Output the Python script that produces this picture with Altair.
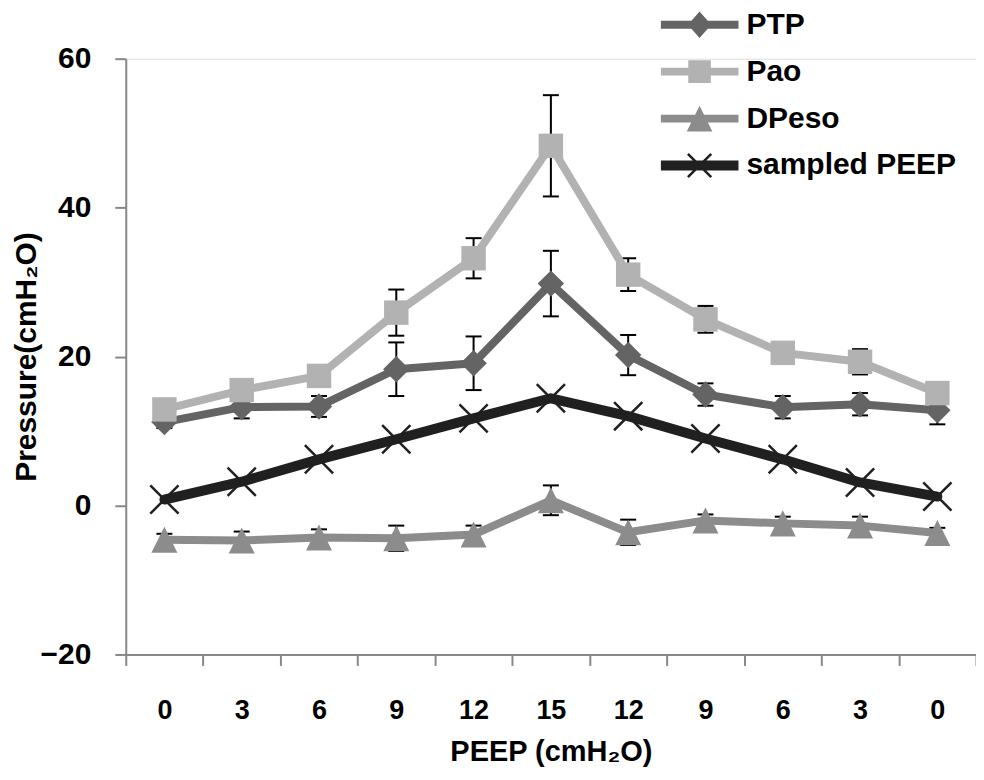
import json
import altair as alt
import pandas as pd

# ---------------- data ----------------
peep_labels = ["0", "3", "6", "9", "12", "15", "12", "9", "6", "3", "0"]
series_names = ["PTP", "Pao", "DPeso", "sampled PEEP"]

ptp = [11.2, 13.2, 13.3, 18.3, 19.1, 29.8, 20.2, 14.9, 13.2, 13.6, 12.8]
ptp_err = [0.8, 1.5, 1.4, 3.6, 3.6, 4.4, 2.7, 1.5, 1.5, 1.5, 1.9]

pao = [12.9, 15.5, 17.4, 25.9, 33.2, 48.3, 31.0, 25.0, 20.5, 19.3, 15.1]
pao_err = [0.8, 1.0, 1.0, 3.1, 2.7, 6.8, 2.2, 1.8, 1.0, 1.7, 1.0]

dpeso = [-4.6, -4.7, -4.3, -4.4, -3.9, 0.7, -3.6, -2.0, -2.4, -2.7, -3.7]
dpeso_err = [0.8, 1.2, 1.1, 1.7, 1.2, 2.0, 1.7, 0.8, 0.9, 1.2, 0.7]

sampled = [0.8, 3.2, 6.2, 8.9, 11.7, 14.4, 12.0, 9.0, 6.2, 3.1, 1.2]

colors = ["#646464", "#b2b2b2", "#8c8c8c", "#202020"]

# legend symbols: a bar (the line) plus the marker, as filled paths in [-1, 1]
legend_paths = [
    "M-1,-0.1L1,-0.1L1,0.1L-1,0.1Z M0,-0.34L0.3,0L0,0.34L-0.3,0Z",
    "M-1,-0.1L1,-0.1L1,0.1L-1,0.1Z M-0.29,-0.29L0.29,-0.29L0.29,0.29L-0.29,0.29Z",
    "M-1,-0.1L1,-0.1L1,0.1L-1,0.1Z M0,-0.33L0.33,0.33L-0.33,0.33Z",
    "M-1,-0.13L1,-0.13L1,0.13L-1,0.13Z "
    "M-0.277,-0.323L0.323,0.277L0.277,0.323L-0.323,-0.277Z "
    "M0.323,-0.277L-0.277,0.323L-0.323,0.277L0.277,-0.323Z",
]

# ---------------- table ----------------
rows = []
for name, vals, errs in zip(series_names, [ptp, pao, dpeso, sampled],
                            [ptp_err, pao_err, dpeso_err, None]):
    for i, v in enumerate(vals):
        r = {"idx": i, "series": name, "value": v}
        if errs is not None:
            r["lo"] = v - errs[i]
            r["hi"] = v + errs[i]
        rows.append(r)
df = pd.DataFrame(rows)

FONT = "Liberation Sans"
label_expr = json.dumps(peep_labels) + "[datum.value]"

x_scale = alt.Scale(type="band", paddingInner=0, paddingOuter=0)
x_axis = alt.Axis(
    title="PEEP (cmH\u2082O)", labelExpr=label_expr, labelAngle=0,
    tickBand="extent", tickSize=11, tickWidth=2, tickColor="#888888",
    domainColor="#888888", domainWidth=2, grid=False,
    labelFont=FONT, labelFontSize=27, labelFontWeight="bold", labelColor="black",
    labelBaseline="middle", labelPadding=45,
    titleFont=FONT, titleFontSize=29, titleFontWeight="bold", titleColor="black",
    titleBaseline="middle", titleY=97,
)
y_scale = alt.Scale(domain=[-20, 60], nice=False, zero=False)
y_axis = alt.Axis(
    title="Pressure(cmH\u2082O)", values=[-20, 0, 20, 40, 60],
    tickSize=11, tickWidth=2, tickColor="#888888",
    domainColor="#888888", domainWidth=2, grid=False,
    labelFont=FONT, labelFontSize=30, labelFontWeight="bold", labelColor="black",
    labelPadding=24,
    titleFont=FONT, titleFontSize=30, titleFontWeight="bold", titleColor="black",
    titleBaseline="middle", titleX=-99,
)


def xe():
    return alt.X("idx:O", scale=x_scale, axis=x_axis, bandPosition=0.5)


def ye(field):
    return alt.Y(f"{field}:Q", scale=y_scale, axis=y_axis)


base = alt.Chart(df)
err_base = base.transform_filter("isValid(datum.lo)")

layers = []
layers.append(err_base.mark_rule(color="black", strokeWidth=2).encode(
    x=xe(), y=ye("lo"), y2="hi:Q"))
layers.append(err_base.mark_tick(color="black", thickness=2, size=16, opacity=1).encode(
    x=xe(), y=ye("lo")))
layers.append(err_base.mark_tick(color="black", thickness=2, size=16, opacity=1).encode(
    x=xe(), y=ye("hi")))

marker_shapes = ["diamond", "square", "M0,-1L1,1L-1,1Z", "M-1,-1L1,1M1,-1L-1,1"]
marker_sizes = [700, 600, 680, 800]
line_widths = [8, 8, 8, 10]

for name, col, shp, sz, lw in zip(series_names, colors, marker_shapes, marker_sizes, line_widths):
    sb = base.transform_filter(alt.datum.series == name)
    layers.append(sb.mark_line(color=col, strokeWidth=lw, strokeJoin="round",
                               strokeCap="round").encode(x=xe(), y=ye("value")))
    if name == "sampled PEEP":
        layers.append(sb.mark_point(shape=shp, size=sz, filled=False, color=col,
                                    strokeWidth=2.5, opacity=1).encode(x=xe(), y=ye("value")))
    else:
        layers.append(sb.mark_point(shape=shp, size=sz, filled=True, color=col,
                                    opacity=1, strokeWidth=0).encode(x=xe(), y=ye("value")))

legend = alt.Legend(
    title=None, orient="none", legendX=536, legendY=-57.5,
    symbolSize=6084, clipHeight=47, rowPadding=0, padding=0,
    symbolStrokeWidth=0, symbolOpacity=1,
    labelFont=FONT, labelFontSize=30, labelFontWeight="bold", labelColor="black",
    labelOffset=8, labelLimit=400,
)
layers.append(base.transform_filter("false").mark_point(filled=True, opacity=1).encode(
    x=xe(), y=ye("value"),
    color=alt.Color("series:N", scale=alt.Scale(domain=series_names, range=colors),
                    legend=legend),
    shape=alt.Shape("series:N", scale=alt.Scale(domain=series_names, range=legend_paths),
                    legend=legend),
))

chart = alt.layer(*layers).properties(
    width=852, height=597,
    padding={"left": 118, "top": 50, "right": 0, "bottom": 112},
    autosize=alt.AutoSizeParams(type="none"),
).configure_view(stroke=None).configure(font=FONT)

chart.save("out.html", embed_options={"renderer": "svg", "actions": False})
